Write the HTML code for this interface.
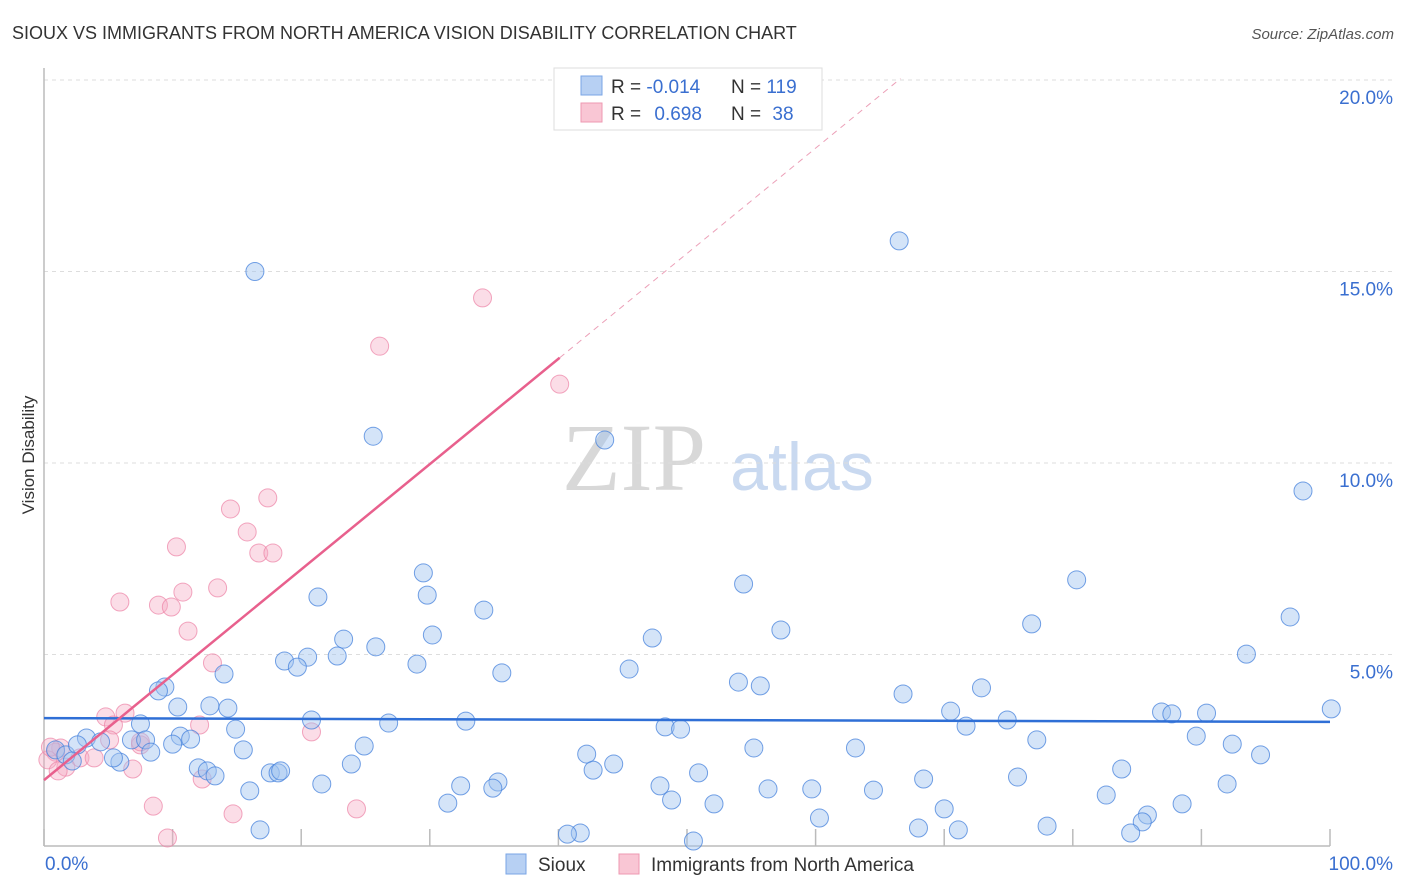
<!DOCTYPE html>
<html><head><meta charset="utf-8"><style>
body{margin:0;background:#fff;font-family:"Liberation Sans",sans-serif;}
#wrap{position:relative;width:1406px;height:892px;overflow:hidden;}
</style></head><body>
<div id="wrap">
<svg id="svg" width="1406" height="892" xmlns="http://www.w3.org/2000/svg">
<text x="12" y="39" font-size="18" fill="#333">SIOUX VS IMMIGRANTS FROM NORTH AMERICA VISION DISABILITY CORRELATION CHART</text>
<text x="1394" y="39" font-size="15" fill="#555" font-style="italic" text-anchor="end">Source: ZipAtlas.com</text>
<text x="634" y="490" font-size="96" fill="#d8d8d8" font-family="Liberation Serif, serif" text-anchor="middle">ZIP</text>
<text x="802" y="490" font-size="68" fill="#c9d9f0" text-anchor="middle">atlas</text>
<g id="grid"></g>
<g id="axes"></g>
<g id="pts"></g>
<g id="trend"></g>
<text transform="translate(34,455) rotate(-90)" font-size="17" fill="#333" text-anchor="middle">Vision Disability</text>
<g>
<rect x="554" y="68" width="268" height="62" fill="#fff" stroke="#ddd"/>
<rect x="581" y="76" width="21" height="19" fill="#b7d0f3" stroke="#7aa5e6"/>
<rect x="581" y="103" width="21" height="19" fill="#f9c6d4" stroke="#ee98b2"/>
<text x="611" y="93" font-size="19" fill="#333">R = <tspan fill="#3a6fd0">-0.014</tspan></text>
<text x="731" y="93" font-size="19" fill="#333">N = <tspan fill="#3a6fd0">119</tspan></text>
<text x="611" y="120" font-size="19" fill="#333">R = <tspan fill="#3a6fd0" dx="8">0.698</tspan></text>
<text x="731" y="120" font-size="19" fill="#333">N = <tspan fill="#3a6fd0" dx="6">38</tspan></text>
</g>
<rect x="506" y="854" width="20" height="20" fill="#b7d0f3" stroke="#7aa5e6"/>
<text x="538" y="871" font-size="19" fill="#333">Sioux</text>
<rect x="619" y="854" width="20" height="20" fill="#f9c6d4" stroke="#ee98b2"/>
<text x="651" y="871" font-size="19" fill="#333">Immigrants from North America</text>
</svg>
</div>
<script>
const yTicks=[5,10,15,20];
const yTickLabels=["5.0%","10.0%","15.0%","20.0%"];
const xTicks=[0,10,20,30,40,50,60,70,80,90,100];
const xEndLabels=["0.0%","100.0%"];
const siouxX=[16.4,66.5,25.6,43.6,97.9,29.5,54.4,80.3,29.8,21.3,34.2,96.9,57.3,76.8,30.2,23.3,47.3,25.8,93.5,18.7,20.5,19.7,22.8,29.0,45.5,35.6,14.0,9.4,8.9,54.0,55.7,66.8,72.9,10.4,12.9,14.3,70.5,86.9,87.7,90.4,100.1,20.8,26.8,32.8,7.5,48.3,49.5,74.9,71.7,14.9,10.6,11.4,3.3,4.4,6.8,7.9,10.0,89.6,77.2,92.4,24.9,15.5,55.2,63.1,94.6,42.2,8.3,0.9,1.7,2.6,5.9,5.4,2.2,44.3,23.9,42.7,12.0,12.7,13.3,17.6,18.2,18.4,83.8,50.9,68.4,75.7,21.6,32.4,35.3,34.9,47.9,16.0,56.3,59.7,64.5,92.0,48.8,52.1,82.6,88.5,31.4,70.0,60.3,85.8,85.4,16.8,68.0,71.1,78.0,84.5,41.7,40.7,50.5];
const siouxY=[15.0,15.8,10.7,10.6,9.27,7.13,6.84,6.95,6.55,6.50,6.16,5.98,5.64,5.80,5.51,5.40,5.43,5.20,5.01,4.83,4.93,4.67,4.96,4.75,4.62,4.52,4.49,4.15,4.05,4.28,4.18,3.97,4.13,3.63,3.66,3.60,3.52,3.50,3.45,3.47,3.58,3.29,3.21,3.26,3.19,3.11,3.05,3.29,3.13,3.05,2.87,2.79,2.82,2.72,2.77,2.77,2.66,2.87,2.77,2.66,2.61,2.51,2.56,2.56,2.38,2.40,2.45,2.51,2.38,2.64,2.19,2.30,2.22,2.14,2.14,1.98,2.04,1.96,1.83,1.91,1.91,1.96,2.01,1.91,1.75,1.80,1.62,1.57,1.67,1.51,1.57,1.44,1.49,1.49,1.46,1.62,1.20,1.10,1.33,1.10,1.12,0.97,0.73,0.81,0.63,0.42,0.47,0.42,0.52,0.34,0.34,0.31,0.13];
const immX=[34.1,26.1,40.1,17.4,14.5,15.8,10.3,16.7,17.8,13.5,10.8,5.9,8.9,9.9,11.2,13.1,6.3,4.8,5.4,12.1,20.8,7.5,1.3,0.9,0.3,2.8,3.9,1.7,1.1,6.9,12.3,8.5,24.3,14.7,9.6,0.5,5.1,7.5];
const immY=[14.31,13.05,12.06,9.09,8.80,8.20,7.81,7.65,7.65,6.74,6.63,6.37,6.29,6.24,5.61,4.78,3.47,3.37,3.16,3.16,2.98,2.64,2.56,2.45,2.25,2.30,2.30,2.06,1.96,2.01,1.75,1.04,0.97,0.84,0.21,2.58,2.77,2.72];
const siouxTrend=[3.34,3.24];
const immTrend=[1.72,0.275];
const immSolidEnd=40.1;
const immDashEnd=66.6;

const NS="http://www.w3.org/2000/svg";
function sx(v){return 44+v*12.86;}
function sy(v){return 846-v*38.3;}
function mk(tag,attrs,parent){const e=document.createElementNS(NS,tag);for(const k in attrs)e.setAttribute(k,attrs[k]);document.getElementById(parent).appendChild(e);return e;}

yTicks.forEach((t,i)=>{
  const l=mk('line',{x1:44,x2:1394,y1:sy(t),y2:sy(t),stroke:'#ddd','stroke-dasharray':'4,4'},'grid');
  
  
  const tx=mk('text',{x:1393,y:sy(t)+24,'font-size':19,fill:'#3a6fd0','text-anchor':'end'},'grid');
  tx.textContent=yTickLabels[i];
  
  
});
const ya=mk('line',{x1:44,x2:44,y1:68,y2:846,stroke:'#bbb','stroke-width':1.5},'axes');


const xa=mk('line',{x1:44,x2:1330,y1:846,y2:846,stroke:'#bbb','stroke-width':1.5},'axes');


xTicks.forEach(t=>{
  const l=mk('line',{x1:sx(t),x2:sx(t),y1:829,y2:846,stroke:'#bbb','stroke-width':1.5},'axes');
  
  
});
const xl0=mk('text',{x:45,y:870,'font-size':19,fill:'#3a6fd0'},'axes');
xl0.textContent=xEndLabels[0];


const xl1=mk('text',{x:1393,y:870,'font-size':19,fill:'#3a6fd0','text-anchor':'end'},'axes');
xl1.textContent=xEndLabels[1];



immX.forEach((x,i)=>{
  const c=mk('circle',{cx:sx(x),cy:sy(immY[i]),r:9,fill:'rgba(246,170,195,0.4)',stroke:'rgba(236,130,165,0.7)','stroke-width':1},'pts');
  
  
});
siouxX.forEach((x,i)=>{
  const c=mk('circle',{cx:sx(x),cy:sy(siouxY[i]),r:9,fill:'rgba(160,195,240,0.45)',stroke:'rgba(70,130,220,0.75)','stroke-width':1},'pts');
  
  
});
const bt=mk('line',{x1:sx(0),x2:sx(100),y1:sy(siouxTrend[0]),y2:sy(siouxTrend[1]),stroke:'#2f6fd6','stroke-width':2.5},'trend');


const pt=mk('line',{x1:sx(0),x2:sx(immSolidEnd),y1:sy(immTrend[0]),y2:sy(immTrend[0]+immTrend[1]*immSolidEnd),stroke:'#e8608d','stroke-width':2.5},'trend');


const pd=mk('line',{x1:sx(immSolidEnd),x2:sx(immDashEnd),y1:sy(immTrend[0]+immTrend[1]*immSolidEnd),y2:sy(immTrend[0]+immTrend[1]*immDashEnd),stroke:'#eca0b8','stroke-width':1,'stroke-dasharray':'6,5'},'trend');


</script>
</body></html>
